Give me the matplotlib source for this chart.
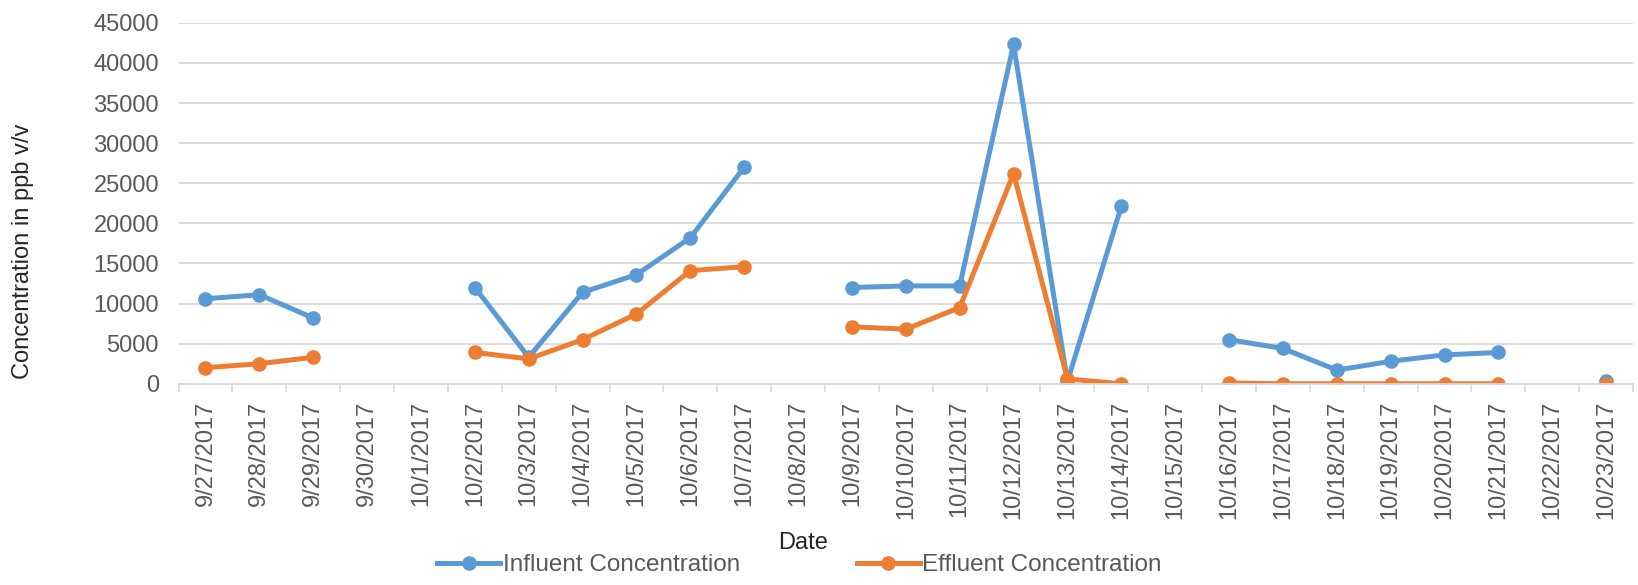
import numpy as np
import matplotlib.pyplot as plt
from matplotlib.ticker import FixedLocator

dates = ['9/27/2017', '9/28/2017', '9/29/2017', '9/30/2017', '10/1/2017',
         '10/2/2017', '10/3/2017', '10/4/2017', '10/5/2017', '10/6/2017',
         '10/7/2017', '10/8/2017', '10/9/2017', '10/10/2017', '10/11/2017',
         '10/12/2017', '10/13/2017', '10/14/2017', '10/15/2017', '10/16/2017',
         '10/17/2017', '10/18/2017', '10/19/2017', '10/20/2017', '10/21/2017',
         '10/22/2017', '10/23/2017']
nan = np.nan
influent = [10600, 11100, 8200, nan, nan,
            12000, 3300, 11400, 13600, 18200,
            27000, nan, 12000, 12200, 12200,
            42300, 300, 22100, nan, 5500,
            4400, 1700, 2800, 3600, 3900,
            nan, 300]
effluent = [2000, 2500, 3300, nan, nan,
            3900, 3100, 5500, 8700, 14100,
            14600, nan, 7100, 6800, 9500,
            26200, 600, 0, nan, 100,
            0, 0, 0, 0, 0,
            nan, 0]

plt.rcParams['font.family'] = ['Liberation Sans', 'DejaVu Sans']
txt = '#595959'
fs = 17

fig = plt.figure(figsize=(16.38, 5.85), dpi=100)
ax = fig.add_axes([0.109, 0.344, 0.888, 0.617])

x = np.arange(len(dates))
l1, = ax.plot(x, influent, color='#5B9BD5', lw=3.6, marker='o', ms=9.5,
              label='Influent Concentration')
l2, = ax.plot(x, effluent, color='#ED7D31', lw=3.6, marker='o', ms=9.5,
              label='Effluent Concentration')

ax.set_xlim(-0.5, len(dates) - 0.5)
ax.set_ylim(0, 45000)
ax.set_yticks(np.arange(0, 45001, 5000))
ax.tick_params(axis='y', length=0, labelsize=fs, colors=txt, pad=14)
ax.set_xticks(x)
ax.set_xticklabels(dates, rotation=90, fontsize=fs, color=txt)
ax.tick_params(axis='x', which='major', length=0, pad=12)
ax.xaxis.set_minor_locator(FixedLocator(np.arange(-0.5, len(dates), 1)))
ax.tick_params(axis='x', which='minor', length=6, color='#D9D9D9', width=1.2)

ax.grid(axis='y', color='#D9D9D9', lw=1.3)
ax.set_axisbelow(True)
for s in ['top', 'right', 'left']:
    ax.spines[s].set_visible(False)
ax.spines['bottom'].set_color('#D9D9D9')
ax.spines['bottom'].set_linewidth(1.3)

# axis titles
fig.text(0.014, 0.571, 'Concentration in ppb v/v', fontsize=fs, color='#262626',
         rotation=90, ha='center', va='center')
fig.text(0.49, 0.072, 'Date', fontsize=fs, color='#262626', ha='center', va='center')

fig.legend(handles=[l1, l2], loc='center', bbox_to_anchor=(0.488, 0.034),
           ncol=2, frameon=False, fontsize=17.5, labelcolor=txt,
           handlelength=2.6, columnspacing=4.8, handletextpad=0.1,
           borderpad=0, borderaxespad=0)

fig.savefig('out.png', dpi=100)
